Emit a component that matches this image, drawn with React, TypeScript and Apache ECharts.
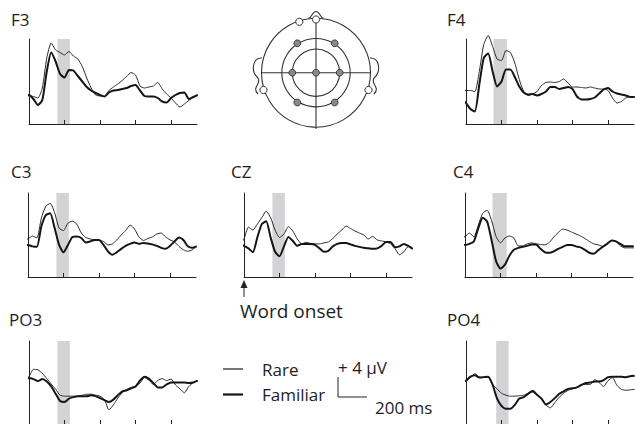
import React, { useEffect, useRef } from "react";
import * as echarts from "echarts";

// ---------- data ----------
const TIMES = [-100, -75, -50, -25, 0, 25, 50, 75, 100, 125, 150, 175, 200, 225, 250, 275, 300, 325, 350, 375, 400, 425, 450, 475, 500, 525, 550, 575, 600, 625, 650, 675, 700, 725, 750, 775, 800, 825, 850, 875, 900, 925, 950];

const f3Rare = [0, 0.1, 0.3, 0.3, 0.1, 0, -0.3, 1.7, 7.7, 10.7, 9.3, 8.8, 8.3, 9.0, 8.1, 7.5, 6.0, 3.7, 1.7, 0.3, 0.1, 0, 1.2, 1.9, 2.5, 3.2, 4.0, 4.8, 4.3, 2.1, 1.7, 1.9, 2.1, 2.8, 1.5, 0.5, -0.3, -1.3, -2.1, -1.5, -0.8, -0.1, 0.3];
const f3Familiar = [-0.1, 0, 0.1, 0.3, 0.3, -0.5, -1.7, -0.7, 5.0, 8.8, 7.0, 4.5, 3.8, 5.3, 5.2, 4.1, 3.0, 1.9, 1.2, 0.7, 0.3, 0, 0.8, 1.2, 1.3, 1.5, 1.7, 2.1, 2.3, 1.2, 0.1, 0, 0, -0.3, -1.0, -1.2, -0.3, 0.3, 0.7, 0.8, -0.5, -0.1, 0.3];
const f4Rare = [0.1, 0.2, 0.5, 0.7, 0.7, 0.7, 0.5, 4.5, 9.9, 11.7, 9.5, 7.0, 6.7, 8.7, 8.3, 6.2, 2.9, 0.5, -0.3, 0, 0.5, 1.7, 2.3, 2.4, 2.3, 2.5, 3.0, 2.2, 1.4, 1.4, 1.3, 1.2, 1.4, 1.2, 1.0, 1.0, 0.7, -0.8, -1.8, -1.5, -0.8, -0.5, -0.5];
const f4Familiar = [0, 0.2, -0.5, -1.0, -1.8, -3.0, -3.5, 1.9, 7.2, 8.1, 4.5, 1.5, 2.5, 4.9, 4.9, 3.4, 1.5, 0.3, -0.1, 0, -0.3, 0, 0.5, 1.4, 1.4, 1.0, 1.2, 1.4, 1.0, -0.5, -1.1, -1.1, -1.0, -0.7, 0.1, 0.9, 1.2, 0.5, 0.1, -0.1, -0.3, -0.6, -0.6];
const c3Rare = [0.7, 0, 1.0, 1.3, 1.5, 2.1, 1.7, 5.7, 8.1, 8.7, 6.8, 3.7, 3.2, 4.7, 5.1, 4.5, 2.7, 1.8, 1.5, 1.3, 1.2, 1.0, 0.3, 0.5, 1.3, 2.3, 3.2, 4.3, 3.5, 1.9, 1.2, 1.6, 1.9, 2.5, 2.7, 1.9, 1.3, 0.9, 0, -0.7, -1.0, -0.7, 0.1];
const c3Familiar = [0, -0.1, -0.1, 0, 0.3, 0, -0.1, 4.0, 6.3, 6.7, 3.7, 0.3, -1.2, 0.3, 1.9, 2.0, 1.7, 0.8, 1.0, 1.3, 1.3, 0.3, -1.0, -1.7, -1.2, -0.5, 0.1, 0.5, 0.8, 0.5, 0.7, 0.6, 0.4, 0.1, -0.3, -0.5, 0.1, 1.0, 1.8, 1.3, 0, -0.3, 0];
const czRare = [0.7, 0.1, -0.3, -0.1, 1.1, 3.5, 2.9, 4.1, 5.4, 6.7, 5.4, 2.9, 1.4, 2.1, 3.6, 2.7, 1.1, 0.1, 0.4, 0.2, 0.1, 0.1, 0.3, 0.5, 1.2, 2.1, 2.9, 3.7, 3.2, 2.7, 2.3, 1.9, 1.1, 1.6, 0.9, 0.7, 0.5, 0.1, -0.8, -2.1, -1.5, -0.4, -0.9];
const czFamiliar = [0, -0.3, -0.1, 0, -0.3, -0.8, -1.6, 1.4, 4.1, 4.7, 1.4, -1.5, -2.4, -0.4, 1.5, 0.7, -0.3, 0.1, 0.1, 0.1, -0.1, -0.8, -1.5, -1.3, -0.4, 0.1, 0.3, 0.3, 0, -0.3, -0.5, -0.7, -0.8, -0.9, -0.8, -0.3, 0.5, 0.5, -0.6, -0.4, 0.1, -0.3, -0.9];
const c4Rare = [0.1, 0.6, -0.3, 0.9, 1.4, 2.1, 1.3, 3.7, 6.1, 6.7, 4.6, 1.4, 0.1, 1.1, 1.5, 1.1, -0.5, -0.5, -0.1, 0.1, -0.1, -0.2, -0.3, 0.2, 1.3, 2.2, 2.9, 2.7, 2.3, 1.9, 1.5, 1.0, 0.4, -0.1, -0.3, -0.6, -0.1, 0.6, 0.4, -0.5, -0.9, -0.9, -0.9];
const c4Familiar = [-0.1, -0.3, -0.6, -0.1, -0.3, -0.1, 0.4, 3.1, 5.2, 4.4, 0.6, -3.6, -5.1, -4.3, -2.5, -1.3, -0.9, -0.7, -0.5, -0.2, -0.2, -1.1, -1.8, -1.9, -1.6, -1.1, -0.7, -0.3, -0.3, -0.6, -0.8, -1.3, -1.9, -2.1, -1.4, -0.7, -0.1, 0.6, 0.4, -0.1, -0.6, -0.6, -0.6];
const po3Rare = [0, -0.2, 0.2, 0.9, 1.5, 3.0, 2.9, 2.2, 1.1, 0, -1.1, -2.3, -2.5, -2.5, -2.5, -2.5, -2.3, -2.1, -2.1, -2.3, -2.5, -3.2, -5.3, -4.3, -2.9, -1.8, -1.1, -0.7, -0.5, 0.2, 1.3, 0.8, -0.1, 0.7, 1.1, 0.7, 1.0, -0.2, -1.0, -1.8, -0.5, 0.3, 0.7];
const po3Familiar = [0, 0, 0.3, 0.8, 1.2, 1.0, 0.6, 1.0, 0.5, -0.5, -2.0, -3.5, -3.7, -3.0, -2.7, -2.5, -2.5, -2.5, -2.3, -2.5, -2.9, -3.3, -3.7, -3.2, -2.3, -1.5, -1.3, -0.9, -0.5, 0.7, 1.5, 1.1, 0.2, -0.7, -0.7, -0.1, 0.3, 0.3, 0.3, 0.3, 0.2, 0.3, 0.7];
const po4Rare = [0.1, -0.5, -0.6, -0.4, 0, 0.7, 1.5, 0.8, 0.7, 0.9, -0.7, -1.6, -2.5, -2.9, -3.1, -3.1, -3.0, -2.9, -2.5, -2.3, -2.9, -3.5, -4.9, -5.5, -4.4, -3.3, -2.5, -1.9, -1.6, -1.3, -0.8, -0.7, -0.7, 0.3, -0.3, -1.1, 0.1, 0.7, -0.9, -1.7, -1.9, -1.8, -1.7];
const po4Familiar = [0.1, -0.4, -0.6, -0.3, 0.1, 0.9, 1.2, 0.7, 0.8, 0.9, -0.8, -3.6, -5.1, -5.7, -5.7, -4.9, -3.6, -3.3, -2.6, -2.0, -2.8, -3.6, -4.8, -4.3, -3.5, -2.6, -2.1, -1.6, -1.5, -1.3, -0.8, -0.4, -0.3, -0.1, -0.1, 0.2, 0.8, 0.9, 0.9, 0.9, 0.8, 1.0, 1.1];

const PANEL_NAMES = ["F3", "F4", "C3", "CZ", "C4", "PO3", "PO4"];
const RARE = [f3Rare, f4Rare, c3Rare, czRare, c4Rare, po3Rare, po4Rare];
const FAMILIAR = [f3Familiar, f4Familiar, c3Familiar, czFamiliar, c4Familiar, po3Familiar, po4Familiar];
const BAND_START = [160, 155, 160, 160, 155, 160, 170];
const BAND_END = [230, 230, 230, 230, 235, 230, 240];
const Y_MAX = [11.5, 11, 10.8, 10.4, 10.2, 8.8, 8.2];
const Y_SPAN = 17;
const X_MAX = 946;
const X_TICKS = [200, 400, 600, 800];
const LEGEND_LABELS = ["Rare", "Familiar"];
const SCALE_V_LABEL = "+ 4 µV";
const SCALE_T_LABEL = "200 ms";
const ONSET_LABEL = "Word onset";

// ---------- layout ----------
const LAYOUT = [
  { left: 29, top: 39, height: 85, tx: 11, ty: 19 },
  { left: 466, top: 39, height: 85, tx: 447, ty: 19 },
  { left: 28, top: 193, height: 84, tx: 11, ty: 171 },
  { left: 244, top: 193, height: 84, tx: 231, ty: 171 },
  { left: 465, top: 193, height: 84, tx: 453, ty: 171 },
  { left: 29, top: 341, height: 84, tx: 9, ty: 319 },
  { left: 466, top: 341, height: 84, tx: 447, ty: 319 },
];
const GRID_W = 168;
const FONT = '"Open Sans", "DejaVu Sans", sans-serif';
const INK = "#1e1e1e";

function txt(text: string, x: number, y: number, size: number, align = "left") {
  return {
    type: "text",
    silent: true,
    style: {
      text, x, y,
      fontSize: size, fontFamily: FONT, fill: INK,
      align, verticalAlign: "middle",
      textAlign: align, textVerticalAlign: "middle",
    },
  };
}

function headGraphics() {
  const cx = 316, cy = 72.7;
  const stroke = { stroke: "#333", lineWidth: 1.1, fill: "none" };
  const els: any[] = [];
  const earL = [
    { x1: 262, y1: 58, cpx1: 253, cpy1: 57, cpx2: 250, cpy2: 71, x2: 258, y2: 78 },
    { x1: 258, y1: 78, cpx1: 262, cpy1: 84, cpx2: 251, cpy2: 87, x2: 258, y2: 94 },
  ];
  earL.forEach((s) => {
    els.push({ type: "bezierCurve", shape: s, style: stroke, silent: true });
    els.push({
      type: "bezierCurve", silent: true, style: stroke,
      shape: { x1: 2 * cx - s.x1, y1: s.y1, cpx1: 2 * cx - s.cpx1, cpy1: s.cpy1, cpx2: 2 * cx - s.cpx2, cpy2: s.cpy2, x2: 2 * cx - s.x2, y2: s.y2 },
    });
  });
  els.push({ type: "bezierCurve", silent: true, style: stroke, shape: { x1: 308.5, y1: 18.6, cpx1: 312.5, cpy1: 17, cpx2: 312, cpy2: 11.5, x2: 316, y2: 11.5 } });
  els.push({ type: "bezierCurve", silent: true, style: stroke, shape: { x1: 323.5, y1: 18.6, cpx1: 319.5, cpy1: 17, cpx2: 320, cpy2: 11.5, x2: 316, y2: 11.5 } });
  els.push({ type: "circle", silent: true, shape: { cx, cy, r: 54.5 }, style: { ...stroke, fill: "#fff" } });
  els.push({ type: "circle", silent: true, shape: { cx, cy, r: 34.2 }, style: stroke });
  els.push({ type: "circle", silent: true, shape: { cx, cy, r: 23.7 }, style: stroke });
  els.push({ type: "line", silent: true, shape: { x1: cx - 54.5, y1: cy, x2: cx + 54.5, y2: cy }, style: stroke });
  els.push({ type: "line", silent: true, shape: { x1: cx, y1: 19, x2: cx, y2: 129 }, style: stroke });
  [[316, 19.5], [299.3, 21.8], [263.5, 90], [368.5, 90]].forEach(([x, y]) =>
    els.push({ type: "circle", silent: true, z: 10, shape: { cx: x, cy: y, r: 3.6 }, style: { fill: "#fff", stroke: "#333", lineWidth: 1 } })
  );
  [[297.3, 43.3], [334.7, 43.3], [292.3, cy], [cx, cy], [339.7, cy], [297.3, 102.5], [334.7, 102.5]].forEach(([x, y]) =>
    els.push({ type: "circle", silent: true, z: 10, shape: { cx: x, cy: y, r: 3.4 }, style: { fill: "#8a8a8a", stroke: "#333", lineWidth: 0.9 } })
  );
  return els;
}

export default function App() {
  const ref = useRef<HTMLDivElement>(null);
  useEffect(() => {
    if (!ref.current) return;
    const chart = echarts.init(ref.current, undefined, { renderer: "svg" });

    const grid = LAYOUT.map((l) => ({ left: l.left, top: l.top, width: GRID_W, height: l.height }));
    const xAxis = LAYOUT.map((_, i) => ({
      type: "value", gridIndex: i, min: 0, max: X_MAX, z: 4,
      axisLine: { show: true, onZero: false, lineStyle: { color: "#222", width: 1 } },
      axisTick: { show: true, inside: true, length: 4, customValues: X_TICKS, lineStyle: { color: "#222", width: 1 } },
      axisLabel: { show: false },
      splitLine: { show: false },
    }));
    const yAxis = LAYOUT.map((_, i) => ({
      type: "value", gridIndex: i, min: Y_MAX[i] - Y_SPAN, max: Y_MAX[i], z: 4,
      axisLine: { show: true, onZero: false, lineStyle: { color: "#222", width: 1 } },
      axisTick: { show: false }, axisLabel: { show: false }, splitLine: { show: false },
    }));

    const series: any[] = [];
    PANEL_NAMES.forEach((_, i) => {
      series.push({
        name: LEGEND_LABELS[0], type: "line", xAxisIndex: i, yAxisIndex: i,
        data: TIMES.map((t, k) => [t, RARE[i][k]]),
        symbol: "none", clip: false, smooth: 0.2, silent: true, z: 3,
        lineStyle: { color: "#2a2a2a", width: 1 }, itemStyle: { color: "#2a2a2a" },
        markArea: {
          silent: true, z: 1,
          itemStyle: { color: "#d3d3d5" },
          data: [[{ xAxis: BAND_START[i] }, { xAxis: BAND_END[i] }]],
        },
      });
      series.push({
        name: LEGEND_LABELS[1], type: "line", xAxisIndex: i, yAxisIndex: i,
        data: TIMES.map((t, k) => [t, FAMILIAR[i][k]]),
        symbol: "none", clip: false, smooth: 0.2, silent: true, z: 3,
        lineStyle: { color: "#151515", width: 2 }, itemStyle: { color: "#151515" },
      });
    });

    const graphic: any[] = [];
    PANEL_NAMES.forEach((n, i) => graphic.push(txt(n, LAYOUT[i].tx, LAYOUT[i].ty, 17)));
    graphic.push(...headGraphics());
    graphic.push({ type: "line", silent: true, shape: { x1: 244, y1: 286, x2: 244, y2: 297 }, style: { stroke: "#222", lineWidth: 1 } });
    graphic.push({ type: "polygon", silent: true, shape: { points: [[244, 280], [240.5, 288], [247.5, 288]] }, style: { fill: "#222" } });
    graphic.push(txt(ONSET_LABEL, 240, 311, 19));
    graphic.push({ type: "polyline", silent: true, shape: { points: [[338, 377], [338, 397], [367, 397]] }, style: { stroke: "#222", lineWidth: 1, fill: "none" } });
    graphic.push(txt(SCALE_V_LABEL, 338, 367, 17));
    graphic.push(txt(SCALE_T_LABEL, 375, 407, 17));

    chart.setOption({
      animation: false,
      backgroundColor: "#fff",
      grid, xAxis, yAxis, series, graphic,
      legend: {
        data: [
          { name: LEGEND_LABELS[0], icon: "path://M0,0H20V1.3H0Z" },
          { name: LEGEND_LABELS[1], icon: "path://M0,0H20V2.2H0Z" },
        ],
        orient: "vertical", left: 218, top: 354,
        itemWidth: 20, itemHeight: 10, itemGap: 5.5, selectedMode: false, symbolKeepAspect: true,
        textStyle: { fontFamily: FONT, fontSize: 17, color: INK, lineHeight: 20, padding: [0, 0, 0, 14] },
      },
    });
    return () => chart.dispose();
  }, []);
  return <div ref={ref} style={{ position: "absolute", left: 0, top: 0, width: 635, height: 424 }} />;
}
